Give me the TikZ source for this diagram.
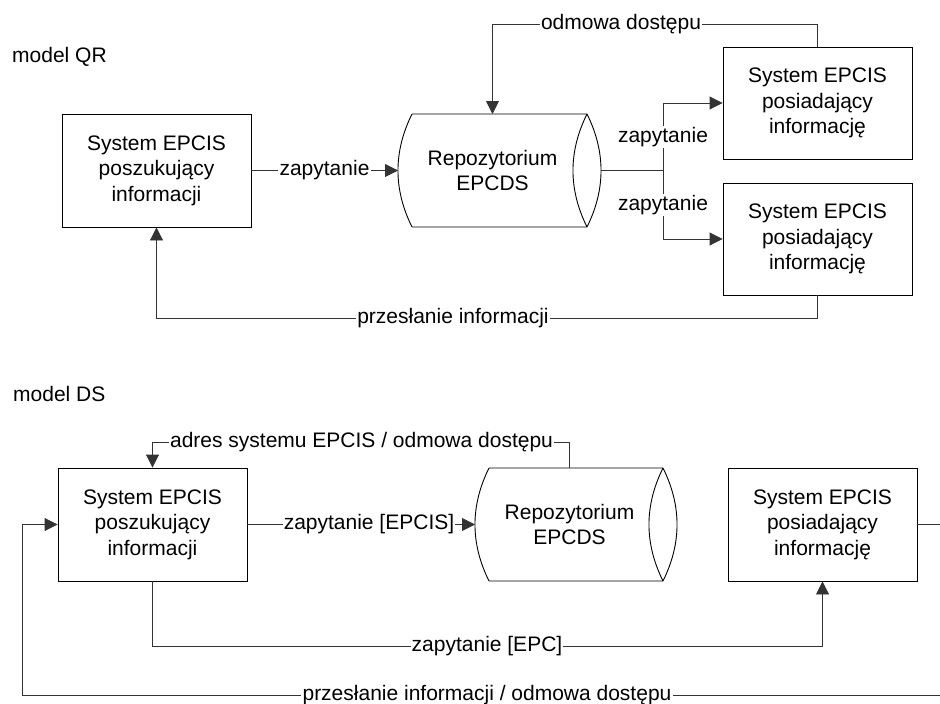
\documentclass[tikz,border=0pt]{standalone}
\usepackage{fontspec}
\setmainfont{Liberation Sans}
\usetikzlibrary{arrows.meta}
\begin{document}
\begin{tikzpicture}[x=1pt,y=-1pt,
  font=\fontsize{21}{25.5}\selectfont,
  box/.style={draw=black, line width=0.9pt, align=center, minimum width=189pt, minimum height=113pt, inner sep=0pt},
  conn/.style={draw=black!80, line width=0.9pt},
  arr/.style={conn, -{Triangle[length=13pt,width=13pt]}},
  lbl/.style={fill=white, inner sep=1.2pt},
  repo/.style={draw=black, line width=0.9pt},
  title/.style={anchor=base west, inner sep=0pt}]
\useasboundingbox (0,0) rectangle (940,704);
\clip (0,0) rectangle (940,704);
\fill[white] (0,0) rectangle (940,704);

% ---------------- model QR ----------------
\node[title] (tQR) at (12,62) {model QR};

\node[box] (seekQR) at (156.5,170.5) {System EPCIS\\poszukujący\\informacji};
\node[box, minimum height=112pt] (ownQR1) at (817.5,103) {System EPCIS\\posiadający\\informację};
\node[box, minimum height=112pt] (ownQR2) at (817.5,239) {System EPCIS\\posiadający\\informację};

% repository (QR)
\draw[repo] (412,114) -- (587,114) (412,227) -- (587,227)
  (412,114) .. controls (393.3,151.7) and (393.3,189.3) .. (412,227)
  (587,114) .. controls (568.3,151.7) and (568.3,189.3) .. (587,227)
  (587,114) .. controls (605.7,151.7) and (605.7,189.3) .. (587,227);
\node[align=center] (repoQR) at (492.5,170.5) {Repozytorium\\EPCDS};
\coordinate (repoQRin) at (398,170.5);
\coordinate (repoQRtop) at (492.5,114);
\coordinate (repoQRout) at (601,170.5);
\coordinate (branch) at (663,170.5);
\coordinate (qrTopR) at (817.5,24);
\coordinate (qrTopL) at (492.5,24);
\coordinate (qrBotR) at (817.5,318);
\coordinate (qrBotL) at (156.5,318);

\draw[arr] (seekQR.east) -- (repoQRin);
\draw[conn] (repoQRout) -- (branch);
\draw[arr] (branch) |- (ownQR1.west);
\draw[arr] (branch) |- (ownQR2.west);
\draw[arr] (ownQR1.north) -- (qrTopR) -- (qrTopL) -- (repoQRtop);
\draw[arr] (ownQR2.south) -- (qrBotR) -- (qrBotL) -- (seekQR.south);

\node[lbl] (lq1) at (324.5,170.5) {zapytanie};
\node[lbl] (lq2) at (663,137) {zapytanie};
\node[lbl] (lq3) at (663,205) {zapytanie};
\node[lbl] (lq4) at (621,24) {odmowa dostępu};
\node[lbl] (lq5) at (453,318) {przesłanie informacji};

% ---------------- model DS ----------------
\node[title] (tDS) at (13,401) {model DS};

\node[box] (seekDS) at (152.5,524.5) {System EPCIS\\poszukujący\\informacji};
\node[box] (ownDS) at (822.5,524.5) {System EPCIS\\posiadający\\informację};

% repository (DS)
\draw[repo] (489,468) -- (663,468) (489,581) -- (663,581)
  (489,468) .. controls (470.3,505.7) and (470.3,543.3) .. (489,581)
  (663,468) .. controls (644.3,505.7) and (644.3,543.3) .. (663,581)
  (663,468) .. controls (681.7,505.7) and (681.7,543.3) .. (663,581);
\node[align=center] (repoDS) at (569.5,524.5) {Repozytorium\\EPCDS};
\coordinate (repoDSin) at (475,524.5);
\coordinate (repoDStop) at (569,468);
\coordinate (dsTopR) at (569,442);
\coordinate (dsTopL) at (152.5,442);
\coordinate (dsMidL) at (152.5,646);
\coordinate (dsMidR) at (822.5,646);
\coordinate (dsR1) at (950,524.5);
\coordinate (dsR2) at (950,695);
\coordinate (dsL2) at (22,695);
\coordinate (dsL1) at (22,524.5);

\draw[arr] (repoDStop) -- (dsTopR) -- (dsTopL) -- (seekDS.north);
\draw[arr] (seekDS.east) -- (repoDSin);
\draw[arr] (seekDS.south) -- (dsMidL) -- (dsMidR) -- (ownDS.south);
\draw[arr] (ownDS.east) -- (dsR1) -- (dsR2) -- (dsL2) -- (dsL1) -- (seekDS.west);

\node[lbl] (ld1) at (361.5,442) {adres systemu EPCIS / odmowa dostępu};
\node[lbl] (ld2) at (369,524.5) {zapytanie [EPCIS]};
\node[lbl] (ld3) at (487,646) {zapytanie [EPC]};
\node[lbl] (ld4) at (487,695) {przesłanie informacji / odmowa dostępu};
\end{tikzpicture}
\end{document}
